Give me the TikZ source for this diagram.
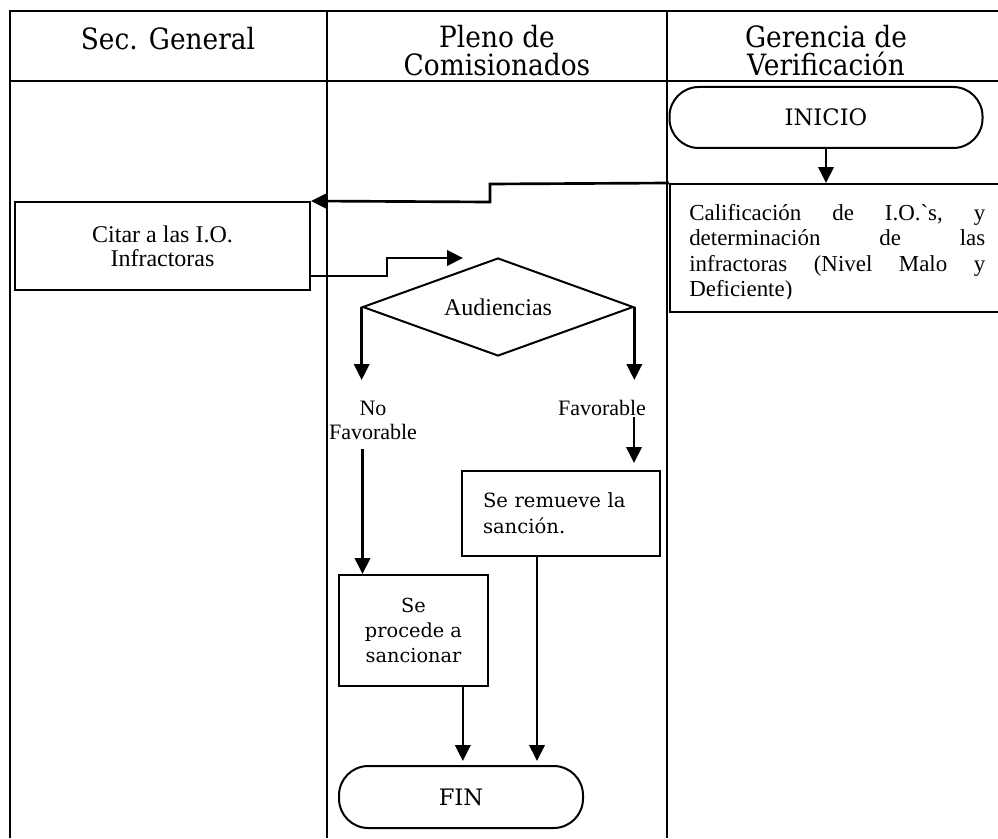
\documentclass[tikz,border=0pt]{standalone}
\usepackage{fontspec}
\setmainfont{DejaVu Serif}
\newfontfamily\cambria{Liberation Serif}
\newfontfamily\hdrfont{DejaVu Serif}[FakeStretch=0.9]
\usetikzlibrary{arrows.meta,shapes.geometric}
\newcommand\jline[1]{\leavevmode\hbox to 222pt{#1}}
\begin{document}
\begin{tikzpicture}[x=0.75pt,y=-0.75pt,
  tbl/.style={line width=2.2pt},
  arr/.style={line width=2pt,-{Triangle[length=12pt,width=11.5pt]}},
  box/.style={draw,line width=1.5pt,inner sep=0pt},
  term/.style={draw,line width=1.5pt,rounded corners=22pt,inner sep=0pt,font=\fontsize{17}{20}\selectfont},
  hdr/.style={align=center,inner sep=0pt,font=\hdrfont\fontsize{22}{21}\selectfont},
  cam/.style={font=\cambria\fontsize{#1}{18}\selectfont}
]
\useasboundingbox (0,0) rectangle (998,838);
% table
\draw[tbl] (10,838) -- (10,11) -- (998,11);
\draw[tbl] (10,81) -- (998,81);
\draw[tbl] (327,11) -- (327,838);
\draw[tbl] (667,11) -- (667,838);
% headers
\node[hdr] (h1) at (168,39) {Sec. General};
\node[hdr] (h2) at (497,51) {Pleno de\\Comisionados};
\node[hdr] (h3) at (826,51) {Gerencia de\\Verificación};
% nodes
\node[term, minimum width=234.75pt, minimum height=45.75pt] (inicio) at (826,117.5) {INICIO};
\node[box, minimum width=247.5pt, minimum height=96pt] (calif) at (835,248) {};
\begin{scope}
\clip (670,184) rectangle (998,298);
\node[anchor=north west, text width=222pt, inner sep=0pt, align=left,
      font=\cambria\fontsize{17.2}{19}\selectfont] (califtext) at (689,204)
 {\jline{Calificación\hfill de\hfill I.O.ˋs,\hfill y}\\
  \jline{determinación\hfill de\hfill las}\\
  \jline{infractoras\hfill (Nivel\hfill Malo\hfill y}\\
  Deficiente)};
\end{scope}
\node[box, minimum width=221.25pt, minimum height=66pt, align=center, cam=18] (citar) at (162.5,246) {Citar a las I.O.\\Infractoras};
\node[draw, diamond, line width=1.5pt, shape aspect=2.76, minimum width=203pt, minimum height=73.5pt, inner sep=0pt, cam=18] (aud) at (498,307) {Audiencias};
\node[align=center, inner sep=0pt, font=\cambria\fontsize{16.5}{18}\selectfont] (nf) at (373,420) {No\\Favorable};
\node[inner sep=0pt, font=\cambria\fontsize{16.5}{18}\selectfont] (fav) at (602,408) {Favorable};
\node[box, minimum width=148.5pt, minimum height=63.75pt, text width=117pt, inner xsep=15.75pt, align=left, font=\fontsize{14.7}{19.5}\selectfont] (remueve) at (561,513.5) {Se remueve la\\sanción.};
\node[box, minimum width=111.75pt, minimum height=83.25pt, align=center, font=\fontsize{14.5}{19}\selectfont] (procede) at (413.5,630.5) {Se\\procede a\\sancionar};
\node[term, minimum width=183pt, minimum height=46.5pt] (fin) at (461,797) {FIN};
% coordinates
\coordinate (audin) at (463,258);
\coordinate (nfend) at (362.5,380);
\coordinate (nfstart) at (362.5,449);
\coordinate (favstart) at (634,417);
\coordinate (favend) at (634,463);
% connectors
\draw[arr] (inicio.south) -- (inicio.south |- calif.north);
\draw[arr] (calif.north west) -- (490,184) -- (490,202) -- (citar.north east);
\draw[arr] (310,276) -- (387,276) -- (387,258) -- (audin);
\draw[arr] (aud.west) -- (aud.west |- nfend);
\draw[arr] (aud.east) -- (aud.east |- nfend);
\draw[arr] (favstart) -- (favend);
\draw[arr] (nfstart) -- (nfstart |- procede.north);
\draw[arr] ([xshift=37pt]procede.south) -- ++(0,74);
\draw[arr] ([xshift=-18pt]remueve.south) -- ++(0,204);
\end{tikzpicture}
\end{document}
